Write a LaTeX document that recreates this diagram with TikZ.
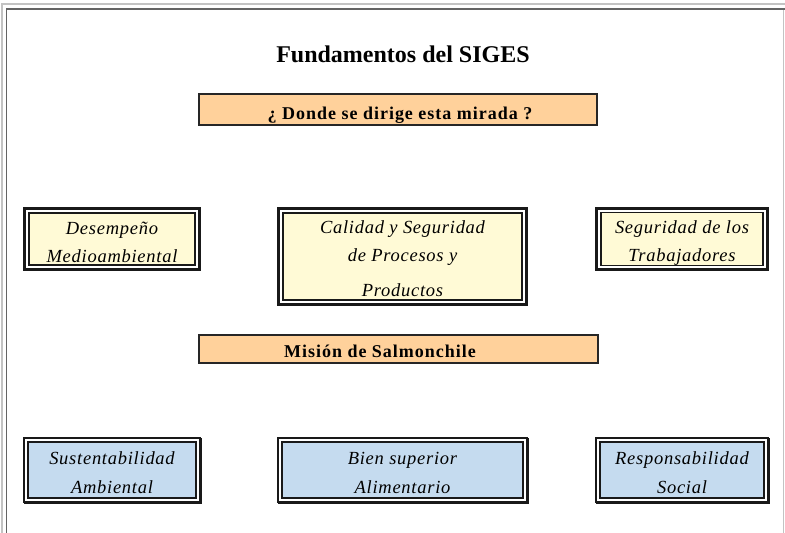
\documentclass[tikz,border=0pt]{standalone}
\usepackage{fontspec}
\setmainfont{Liberation Serif}
\definecolor{orfill}{RGB}{255,209,155}
\definecolor{yefill}{RGB}{255,250,214}
\definecolor{blfill}{RGB}{197,219,239}
\definecolor{framedark}{RGB}{100,100,100}
\definecolor{framelight}{RGB}{195,195,195}
\newcommand\hpt[1]{\rule{0pt}{#1pt}}
\begin{document}
\begin{tikzpicture}[x=1pt,y=-1pt,
  orbox/.style={draw=black!85, line width=1.1pt, fill=orfill, inner sep=0pt},
  orfont/.style={font=\fontsize{18}{20}\selectfont\bfseries\addfontfeatures{LetterSpace=5.5}},
  inbox/.style={draw=black!90, line width=1.2pt, inner sep=0pt, align=center,
    font=\fontsize{18.5}{28.5}\selectfont\itshape\addfontfeatures{LetterSpace=4}},
  yebox/.style={inbox, fill=yefill},
  blbox/.style={inbox, fill=blfill},
  outframe/.style={draw=black!90, line width=3pt, fill=white},
  outframeb/.style={draw=black!90, line width=2pt, fill=white},
  titlefont/.style={font=\fontsize{24}{26}\selectfont\bfseries}
]
\useasboundingbox (0,0) rectangle (785,533);
% page frame
\draw[framelight, line width=1.4pt] (2,533) -- (2,4) -- (785,4);
\draw[framedark, line width=1.4pt] (6.5,533) -- (6.5,9) -- (785,9);
\draw[framelight, line width=1pt] (783.5,10) -- (783.5,533);

% title
\node[titlefont, anchor=base] (title) at (403,62) {Fundamentos del SIGES};

% orange boxes
\node[orbox, minimum width=398pt, minimum height=31pt] (q) at (398,109.5) {};
\node[orfont, anchor=base] (qt) at (400,119) {¿ Donde se dirige esta mirada ?};
\node[orbox, minimum width=399pt, minimum height=28pt] (m) at (398.5,349) {};
\node[orfont, anchor=base] (mt) at (380,357) {Misión de Salmonchile};

% yellow boxes: outer frames
\draw[outframe] (24.5,208.5) rectangle (199.5,269.5);
\draw[outframe] (278.5,208.5) rectangle (526.5,304.5);
\draw[outframe] (596.5,208.5) rectangle (767.5,269.5);
\node[yebox, minimum width=166pt, minimum height=52pt] (dm) at (112,239) {\hpt{19}Desempeño\\Medioambiental};
\node[yebox, minimum width=239pt, minimum height=87pt] (cal) at (402.5,256.5) {\hpt{17}Calidad y Seguridad\\de Procesos y\\[6pt]Productos};
\node[yebox, minimum width=162pt, minimum height=52pt] (seg) at (682,239) {\hpt{21}Seguridad de los\\Trabajadores};

% blue boxes: outer frames
\draw[outframeb] (24,438) rectangle (200,502);
\draw[outframeb] (278,438) rectangle (527,502);
\draw[outframeb] (596,438) rectangle (768,502);
\draw[black!90, line width=1.5pt] (24,503.3) -- (201.3,503.3) -- (201.3,438);
\draw[black!90, line width=1.5pt] (278,503.3) -- (528.3,503.3) -- (528.3,438);
\draw[black!90, line width=1.5pt] (596,503.3) -- (769.3,503.3) -- (769.3,438);
\node[blbox, minimum width=168pt, minimum height=56pt] (sus) at (112,470) {\hpt{18.5}Sustentabilidad\\Ambiental};
\node[blbox, minimum width=241pt, minimum height=56pt] (bien) at (402.5,470) {\hpt{18.5}Bien superior\\Alimentario};
\node[blbox, minimum width=164pt, minimum height=56pt] (resp) at (682,470) {\hpt{18.5}Responsabilidad\\Social};
\end{tikzpicture}
\end{document}
